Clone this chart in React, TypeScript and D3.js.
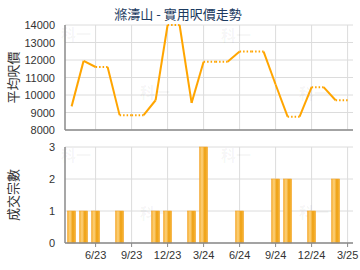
import React from "react";
import * as d3 from "d3";

// Month labels (M/YY), one per point, April 2023 – March 2025
const months = [
  "4/23", "5/23", "6/23", "7/23", "8/23", "9/23", "10/23", "11/23", "12/23",
  "1/24", "2/24", "3/24", "4/24", "5/24", "6/24", "7/24", "8/24", "9/24",
  "10/24", "11/24", "12/24", "1/25", "2/25", "3/25",
];

// Average saleable price per sq ft, per month
const avgPrice = [
  9350, 11950, 11600, 11600, 8850, 8850, 8850, 9700, 14000,
  14000, 9550, 11900, 11900, 11900, 12480, 12480, 12480, 10600,
  8760, 8760, 10450, 10450, 9700, 9700,
];

// Number of transactions, per month
const deals = [
  1, 1, 1, 0, 1, 0, 0, 1, 1,
  0, 1, 3, 0, 0, 1, 0, 0, 2,
  2, 0, 1, 0, 2, 0,
];

const quarterTicks = ["6/23", "9/23", "12/23", "3/24", "6/24", "9/24", "12/24", "3/25"];
const priceTicks = [8000, 9000, 10000, 11000, 12000, 13000, 14000];
const dealTicks = [0, 1, 2, 3];

const W = 360;
const H = 270;
const left = 65;
const right = 353;
const top1 = 25;
const bottom1 = 130;
const top2 = 147;
const bottom2 = 243;

const numFont = "'Liberation Sans', Arial, sans-serif";
const cjkFont = "'Noto Sans CJK TC', 'Noto Sans CJK SC', sans-serif";
const gridColor = "#dcdcdc";
const axisColor = "#8a8a8a";
const lineColor = "#ffa500";

export default function App() {
  const x = d3.scaleLinear().domain([-0.55, months.length - 0.55]).range([left, right]);
  const y1 = d3.scaleLinear().domain([8000, 14000]).range([bottom1, top1]);
  const y2 = d3.scaleLinear().domain([0, 3]).range([bottom2, top2]);
  const xi = (m: string) => x(months.indexOf(m));

  // Split the price line into segments: flat carry-over months are dotted
  const segs = avgPrice.slice(1).map((v, i) => ({
    x0: x(i), y0: y1(avgPrice[i]), x1: x(i + 1), y1: y1(v),
    dotted: v === avgPrice[i],
  }));

  const barW = 8;
  const watermark = (cx: number, cy: number, k: string) => (
    <text key={k} x={cx} y={cy} textAnchor="middle" fontFamily={cjkFont} fontWeight="bold"
      fontSize={15} fill="#000" fillOpacity={0.05}>科一</text>
  );

  return (
    <svg width={W} height={H} style={{ position: "absolute", left: 0, top: 0, background: "#fff" }}>
      <defs>
        <linearGradient id="barGrad" x1="0" x2="1" y1="0" y2="0">
          <stop offset="0%" stopColor="#f6ae2d" />
          <stop offset="30%" stopColor="#fdd27e" />
          <stop offset="65%" stopColor="#eea012" />
          <stop offset="100%" stopColor="#f7b83e" />
        </linearGradient>
      </defs>

      {/* title */}
      <text x={178} y={19} textAnchor="middle" fontFamily={cjkFont} fontSize={13} fill="#1b3a60">
        滌濤山 - 實用呎價走勢
      </text>

      {/* price chart grid */}
      {priceTicks.map((t) => (
        <line key={"hg" + t} x1={left} x2={right} y1={y1(t)} y2={y1(t)} stroke={gridColor} />
      ))}
      {quarterTicks.map((m) => (
        <line key={"vg" + m} x1={xi(m)} x2={xi(m)} y1={top1} y2={bottom1} stroke={gridColor} />
      ))}
      {watermark(76, 40, "w1")}
      {watermark(155, 98, "w2")}
      {watermark(236, 41, "w3")}
      {watermark(314, 99, "w4")}

      {/* price line */}
      {segs.map((s, i) => (
        <line key={"s" + i} x1={s.x0} y1={s.y0} x2={s.x1} y2={s.y1} stroke={lineColor}
          strokeWidth={2} strokeDasharray={s.dotted ? "1.5 2" : undefined} />
      ))}

      {/* price axes */}
      <line x1={left} x2={left} y1={top1} y2={bottom1} stroke={axisColor} strokeWidth={1.5} />
      <line x1={left} x2={right} y1={bottom1} y2={bottom1} stroke={axisColor} strokeWidth={1.5} />
      {priceTicks.map((t) => (
        <text key={"pl" + t} x={55} y={y1(t) + 4} textAnchor="end" fontFamily={numFont}
          fontSize={11} fill="#333">{t}</text>
      ))}
      <text transform={`translate(18,${(top1 + bottom1) / 2}) rotate(-90)`} textAnchor="middle"
        fontFamily={cjkFont} fontSize={13} fill="#333">平均呎價</text>

      {/* deals chart grid */}
      {dealTicks.map((t) => (
        <line key={"dg" + t} x1={left} x2={right} y1={y2(t)} y2={y2(t)} stroke={gridColor} />
      ))}
      {quarterTicks.map((m) => (
        <line key={"dv" + m} x1={xi(m)} x2={xi(m)} y1={top2} y2={bottom2} stroke={gridColor} />
      ))}
      {watermark(76, 161, "w5")}
      {watermark(155, 219, "w6")}
      {watermark(236, 161, "w7")}
      {watermark(314, 218, "w8")}

      {/* deal bars */}
      {deals.map((d, i) =>
        d > 0 ? (
          <rect key={"b" + i} x={x(i) - barW / 2} y={y2(d)} width={barW} height={y2(0) - y2(d)}
            fill="url(#barGrad)" stroke="#f3a52a" strokeWidth={0.6} />
        ) : null
      )}

      {/* deals axes */}
      <line x1={left} x2={left} y1={top2} y2={bottom2} stroke={axisColor} strokeWidth={1.5} />
      <line x1={left} x2={right} y1={bottom2} y2={bottom2} stroke={axisColor} strokeWidth={1.5} />
      {quarterTicks.map((m) => (
        <g key={"xt" + m}>
          <line x1={xi(m)} x2={xi(m)} y1={bottom2} y2={bottom2 + 4} stroke={axisColor} />
          <text x={xi(m)} y={259} textAnchor="middle" fontFamily={numFont} fontSize={11} fill="#333">{m}</text>
        </g>
      ))}
      {dealTicks.map((t) => (
        <text key={"dl" + t} x={55} y={y2(t) + 4} textAnchor="end" fontFamily={numFont}
          fontSize={11} fill="#333">{t}</text>
      ))}
      <text transform={`translate(18,${(top2 + bottom2) / 2}) rotate(-90)`} textAnchor="middle"
        fontFamily={cjkFont} fontSize={13} fill="#333">成交宗數</text>
    </svg>
  );
}
